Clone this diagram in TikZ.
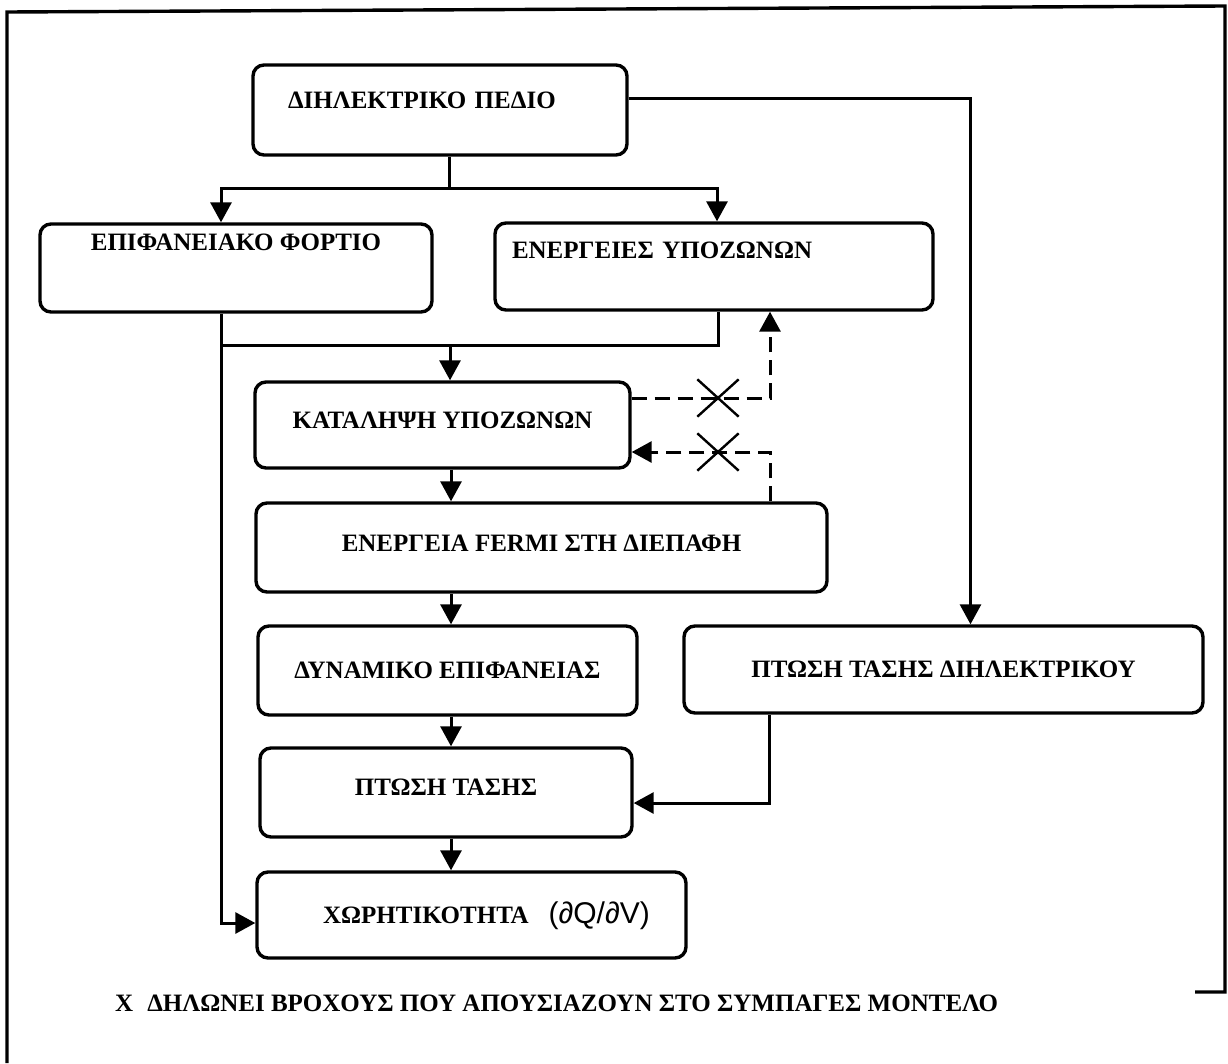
\documentclass[tikz,border=0pt]{standalone}
\usepackage{fontspec}
\setmainfont{Liberation Serif}
\newfontfamily\sansform{Liberation Sans}
\usetikzlibrary{arrows.meta, positioning, shapes.misc, calc}

\tikzset{
  blk/.style={draw, rounded corners=11pt, line width=3.4pt,
              inner xsep=6pt, inner ysep=2pt, text height=16pt, text depth=0pt,
              font=\bfseries\fontsize{25}{29}\selectfont},
  conn/.style={line width=3pt},
  arr/.style={conn, -{Triangle[length=20pt, width=21pt]}},
  darr/.style={arr, dash pattern=on 15pt off 8pt},
  xmark/.style={cross out, draw, line width=2.4pt, minimum width=39pt,
                minimum height=35pt, inner sep=0pt},
  note/.style={font=\bfseries\fontsize{25}{29}\selectfont, inner sep=0pt}
}

\begin{document}
\begin{tikzpicture}[x=1pt, y=-1pt]
  \useasboundingbox (0,0) rectangle (1228,1063);
  \draw[line width=3.4pt] (7,1063) -- (7,12) -- (1225,6) -- (1225,992) -- (1195,992);

  % boxes
  \node[blk, minimum width=374pt, minimum height=90pt, text width=304pt,
        align=left, inner xsep=35pt, text depth=20pt] (pedio) at (440,110)
        {ΔΙΗΛΕΚΤΡΙΚΟ ΠΕΔΙΟ};
  \node[blk, minimum width=392pt, minimum height=88pt, text depth=52pt]
        (fortio) at (236,268) {ΕΠΙΦΑΝΕΙΑΚΟ ΦΟΡΤΙΟ};
  \node[blk, minimum width=438pt, minimum height=87pt, text width=404pt,
        align=left, inner xsep=17pt, text depth=32pt] (energ) at (714,266.5)
        {ΕΝΕΡΓΕΙΕΣ ΥΠΟΖΩΝΩΝ};
  \node[blk, minimum width=375pt, minimum height=86pt, text depth=10pt]
        (katal) at (442.5,425) {ΚΑΤΑΛΗΨΗ ΥΠΟΖΩΝΩΝ};
  \node[blk, minimum width=571pt, minimum height=89pt, text depth=8pt]
        (fermi) at (541.5,547.5) {ΕΝΕΡΓΕΙΑ FERMI ΣΤΗ ΔΙΕΠΑΦΗ};
  \node[blk, minimum width=379pt, minimum height=89pt]
        (dynam) at (447.5,670.5) {ΔΥΝΑΜΙΚΟ ΕΠΙΦΑΝΕΙΑΣ};
  \node[blk, minimum width=519pt, minimum height=87pt]
        (ptosid) at (943.5,669.5) {ΠΤΩΣΗ ΤΑΣΗΣ ΔΙΗΛΕΚΤΡΙΚΟΥ};
  \node[blk, minimum width=372pt, minimum height=89pt, text depth=10pt]
        (ptosi) at (446,792.5) {ΠΤΩΣΗ ΤΑΣΗΣ};
  \node[blk, minimum width=429pt, minimum height=86pt] (xor) at (471.5,915)
        {\hspace*{30pt}ΧΩΡΗΤΙΚΟΤΗΤΑ\hspace{20pt}{\sansform\mdseries\fontsize{30}{32}\selectfont(∂Q/∂V)}};

  \node[note, anchor=west] (legend) at (115,1003)
        {Χ\hspace{14pt}ΔΗΛΩΝΕΙ ΒΡΟΧΟΥΣ ΠΟΥ ΑΠΟΥΣΙΑΖΟΥΝ ΣΤΟ ΣΥΜΠΑΓΕΣ ΜΟΝΤΕΛΟ};

  % junctions
  \coordinate (split) at (449,188);
  \coordinate (jl) at (221,345);
  \coordinate (merge) at (450,345);
  \coordinate (spine) at (451,0);

  \draw[conn] (pedio.south -| split) -- (split);
  \draw[arr] (split) -| ([xshift=-15pt]fortio.north);
  \draw[arr] (split) -| ([xshift=3pt]energ.north);
  \draw[arr] ([yshift=12pt]pedio.east) -| ([xshift=27pt]ptosid.north);

  \draw[arr] ([xshift=-15pt]fortio.south) |- ([yshift=-8pt]xor.west);
  \draw[conn] ([xshift=4pt]energ.south) |- (jl);
  \draw[arr] (merge) -- (katal.north -| merge);

  % loops missing from the compact model
  \draw[darr] ([yshift=27pt]katal.east) -| ([xshift=56pt]energ.south);
  \draw[darr] ([xshift=228.5pt]fermi.north) |- ([yshift=-27pt]katal.east);
  \node[xmark] (x1) at (718,398) {};
  \node[xmark] (x2) at (718,452) {};

  \draw[arr] (katal.south -| spine) -- (fermi.north -| spine);
  \draw[arr] (fermi.south -| spine) -- (dynam.north -| spine);
  \draw[arr] (dynam.south -| spine) -- (ptosi.north -| spine);
  \draw[arr] (ptosi.south -| spine) -- (xor.north -| spine);
  \draw[arr] ([xshift=-174.5pt]ptosid.south) |- ([yshift=-10.5pt]ptosi.east);
\end{tikzpicture}
\end{document}
